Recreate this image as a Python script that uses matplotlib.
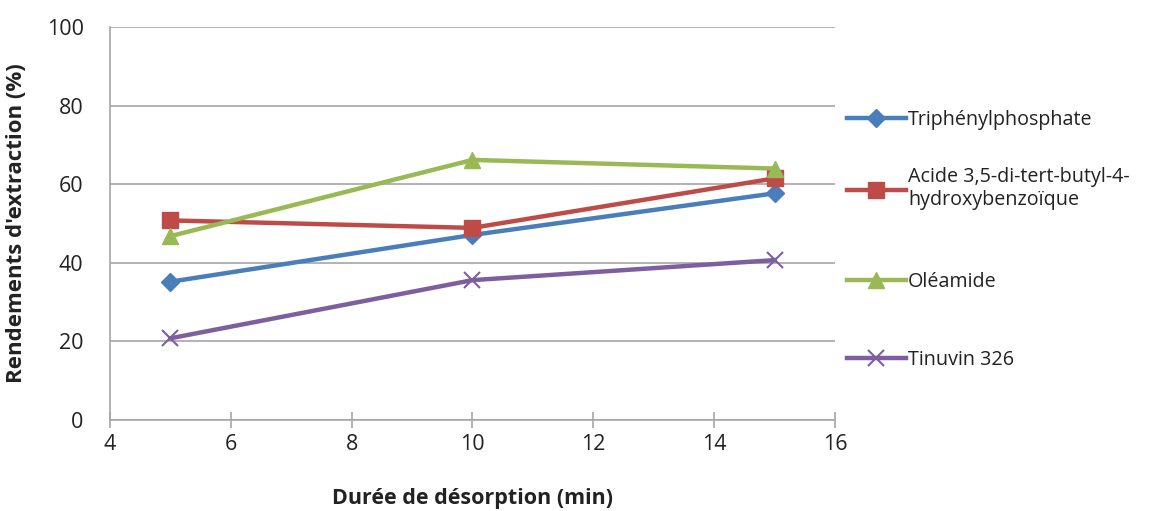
import matplotlib
matplotlib.use("Agg")
import matplotlib.pyplot as plt
from matplotlib.lines import Line2D
from matplotlib.legend import Legend

# durations (min) and extraction yields (%)
durees = [5, 10, 15]
triphenyl = [35.2, 47.1, 57.7]
acide = [50.8, 48.9, 61.5]
oleamide = [46.8, 66.2, 64.0]
tinuvin = [20.8, 35.6, 40.7]

noms = ["Triphénylphosphate",
        "Acide 3,5-di-tert-butyl-4-\nhydroxybenzoïque",
        "Oléamide",
        "Tinuvin 326"]
couleurs = ["#4A7EBB", "#BE4B48", "#98B954", "#7D5FA0"]
marqueurs = ["D", "s", "^", "x"]
tailles = [9, 12, 12, 12]

plt.rcParams['font.family'] = ['Open Sans', 'DejaVu Sans']

fig = plt.figure(figsize=(11.76, 5.11), dpi=100)
ax = fig.add_axes([0.0935, 0.178, 0.6165, 0.769])

series = [triphenyl, acide, oleamide, tinuvin]
for y, nom, c, m, s in zip(series, noms, couleurs, marqueurs, tailles):
    ax.plot(durees, y, color=c, lw=3.2, marker=m, ms=s, mew=1.5 if m == "x" else 1,
            mec=c, mfc=c, label=nom)

ax.set_xlim(4, 16)
ax.set_ylim(0, 100)
ax.set_xticks(range(4, 17, 2))
ax.set_yticks(range(0, 101, 20))
ax.yaxis.grid(True, color="#A6A6A6", lw=1.2)
ax.set_axisbelow(True)
for sp in ["top", "right"]:
    ax.spines[sp].set_visible(False)
for sp in ["left", "bottom"]:
    ax.spines[sp].set_color("#A6A6A6")
    ax.spines[sp].set_linewidth(1.2)
ax.tick_params(axis="x", colors="#A6A6A6", labelcolor="#222222", labelsize=15.5,
               length=12, width=1.2, direction="inout", pad=4)
ax.tick_params(axis="y", labelcolor="#222222", labelsize=15.5, length=0, pad=19)

ax.set_xlabel("Durée de désorption (min)", fontsize=15.5, fontweight="bold",
              labelpad=24, color="#222222")
ax.set_ylabel("Rendements d'extraction (%)", fontsize=16, fontweight="bold",
              labelpad=14, color="#222222")

# Excel-style legend entries with uneven spacing, one per entry
positions = [0.763, 0.588, 0.351, 0.153]
for nom, c, m, s, yp in zip(noms, couleurs, marqueurs, tailles, positions):
    h = Line2D([], [], color=c, lw=3.2, marker=m, ms=s, mec=c, mfc=c,
               mew=1.5 if m == "x" else 1)
    lg = Legend(ax, [h], [nom], loc="center left", bbox_to_anchor=(1.0, yp),
                frameon=False, fontsize=14.2, handlelength=3.0,
                handletextpad=0.1, borderaxespad=0.6, borderpad=0,
                labelcolor="#222222")
    ax.add_artist(lg)

fig.savefig("out.png", dpi=100)
